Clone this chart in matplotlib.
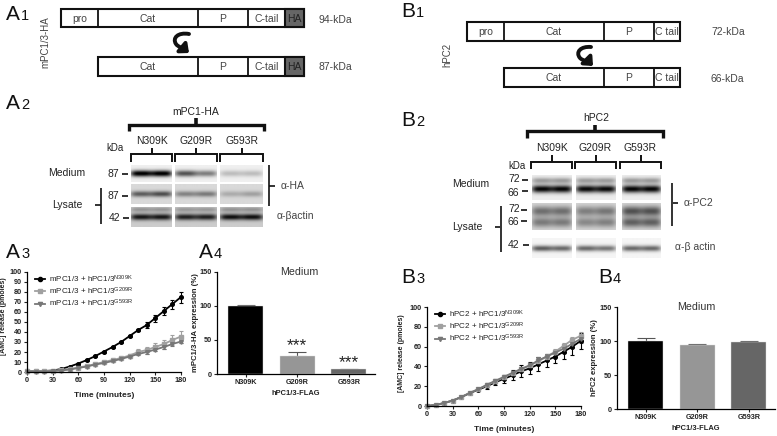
import numpy as np
import matplotlib
matplotlib.use("Agg")
import matplotlib.pyplot as plt
from matplotlib.lines import Line2D
from matplotlib.patches import Rectangle, FancyArrowPatch
from matplotlib.path import Path

plt.rcParams['font.family'] = ['Liberation Sans', 'DejaVu Sans']
plt.rcParams['mathtext.default'] = 'regular'

# curves
minutes = [0, 10, 20, 30, 40, 50, 60, 70, 80, 90, 100, 110, 120, 130, 140, 150, 160, 170, 180]
a_n309k = [1, 1, 1, 1.5, 3, 5.5, 8.5, 12, 16, 20.5, 25, 30, 36, 42, 47, 54, 61, 68, 75]
a_g209r = [1, 1, 1, 1.2, 2, 3, 4.5, 6, 8, 10, 12, 14, 16.5, 20, 22, 25, 28, 32, 35.5]
a_g593r = [0.5, 0.5, 0.5, 1, 1.5, 2.5, 4, 5.5, 7.5, 9, 11, 13, 15.5, 18, 20, 22.5, 25, 28, 30.5]
a_n309k_err = [1.5, 1.5, 1.2, 1, 1, 1, 1, 1, 1, 1, 1, 1, 1, 1, 3, 3.5, 4, 4.5, 5.5]
a_g209r_err = [2, 2, 1.5, 1.5, 1, 1, 1, 1, 1, 1, 1, 1, 1.5, 3, 3.5, 4, 4.5, 5, 6]
a_g593r_err = [1, 1, 1, 1, 1, 1, 1, 1, 1, 1, 1, 1, 1, 1, 1.5, 1.5, 1.5, 1.5, 1.5]
b_n309k = [0, 1, 3, 5.5, 9, 13, 16.5, 20, 24, 27.5, 31, 35, 38, 42, 46, 50, 55, 60, 66]
b_g209r = [0, 1, 3, 5.5, 9, 13.5, 17, 21, 25, 29, 33, 37, 41, 45, 50, 55, 61, 67, 71]
b_g593r = [0, 1, 3, 5.5, 9, 13, 17, 21.5, 25.5, 29.5, 33.5, 37.5, 41, 46, 50, 54, 58, 63, 68]
b_n309k_err = [0.5, 0.5, 0.5, 0.5, 1, 1, 1.5, 3, 3, 4, 5, 6, 6, 7, 7, 7, 8, 8, 8]
b_g209r_err = [0.5, 0.5, 0.5, 0.5, 1, 1, 1, 1.5, 1.5, 2, 2, 2, 2, 2, 2.5, 2.5, 3, 3, 4]
b_g593r_err = [0.5, 0.5, 0.5, 0.5, 1, 1, 1, 1.5, 2, 2, 2, 2, 2.5, 3, 3, 3, 4, 4, 4]

# bars
mutants = ["N309K", "G209R", "G593R"]
a_bars = [100, 26, 7]
a_bars_err = [2, 6, 0.5]
b_bars = [100, 94, 98]
b_bars_err = [4, 1.5, 1.5]

# blot band darkness per lane
a_medium = [0.98, 0.98, 0.62, 0.45, 0.2, 0.2]
a_lysate = [0.55, 0.62, 0.38, 0.42, 0.2, 0.25]
a_actin = [0.72, 0.72, 0.68, 0.68, 0.75, 0.75]
b_medium = [0.92, 0.92, 0.9, 0.9, 0.92, 0.92]
b_lysate = [0.45, 0.45, 0.38, 0.42, 0.58, 0.58]
b_actin = [0.6, 0.55, 0.55, 0.5, 0.55, 0.55]

fig = plt.figure(figsize=(7.77, 4.36), dpi=100)
bg = fig.add_axes([0, 0, 1, 1])
bg.axis("off")


def px_axes(left, right, top, bottom):
    return fig.add_axes([left / 777, 1 - bottom / 436, (right - left) / 777, (bottom - top) / 436])


def label(x, y, s, size=7.5, **kw):
    kw.setdefault("ha", "center")
    kw.setdefault("va", "center")
    kw.setdefault("color", "#222222")
    bg.text(x, y, s, fontsize=size, **kw)


def panel(x, y, letter, num):
    bg.text(x, y, letter, fontsize=15, color="#111111", va="baseline")
    bg.text(x + 15, y, num, fontsize=10.5, color="#111111", va="baseline")


def line(xs, ys, lw=1.2, color="#111111"):
    bg.plot(xs, ys, color=color, lw=lw, solid_capstyle="butt", solid_joinstyle="miter")


def construct(y0, y1, edges, names, size=7.5):
    bg.add_patch(Rectangle((edges[0], y0), edges[-1] - edges[0], y1 - y0, fc="white", ec="#111111", lw=1.5))
    for i, name in enumerate(names):
        if name == "HA":
            bg.add_patch(Rectangle((edges[i], y0), edges[i + 1] - edges[i], y1 - y0, fc="#666666", ec="#111111", lw=1.5))
        label((edges[i] + edges[i + 1]) / 2, (y0 + y1) / 2, name, size=size, color="#444444" if name != "HA" else "#222222")
        if i > 0:
            line([edges[i], edges[i]], [y0, y1], lw=1.3)


def bracket(x0, x1, y_top, y_bot, stem, lw=1.4):
    line([x0, x0, x1, x1], [y_bot, y_top, y_top, y_bot], lw=lw)
    xm = (x0 + x1) / 2
    line([xm, xm], [y_top, stem], lw=lw)


def curl(p0, c1, c2, p1, c3, c4, p2):
    path = Path([p0, c1, c2, p1, c3, c4, p2],
                [Path.MOVETO, Path.CURVE4, Path.CURVE4, Path.CURVE4, Path.CURVE4, Path.CURVE4, Path.CURVE4])
    bg.add_patch(FancyArrowPatch(path=path, arrowstyle="-|>,head_length=0.9,head_width=0.8", lw=2.8,
                                 color="#111111", mutation_scale=5))


def blot(groups, y0, y1, dark, bands, base=0.9):
    # one picture per group, two lanes in each
    for g, (x0, x1) in enumerate(groups):
        xs = np.linspace(x0, x1, 80)
        ys = np.linspace(y0, y1, 60)
        xx, yy = np.meshgrid(xs, ys)
        w = (x1 - x0) / 4
        img = np.full(xx.shape, base)
        for k in range(2):
            c = x0 + w * (1 + 2 * k)
            prof = np.exp(-((xx - c) / (w * 1.05)) ** 4)
            for rel, sig, amt in bands:
                yc = y0 + rel * (y1 - y0)
                img -= dark[g * 2 + k] * amt * prof * np.exp(-((yy - yc) / sig) ** 2)
        bg.imshow(np.clip(img, 0, 1), extent=(x0, x1, y1, y0), cmap="gray", vmin=0, vmax=1,
                  aspect="auto", interpolation="bilinear", zorder=1)


def curve_chart(ax, series, yticks, ylab_x, ylab_y, lab_space):
    handles = []
    for vals, err, col, mk, name in series:
        ax.errorbar(minutes, vals, yerr=err, color=col, marker=mk, ms=2.6, lw=1.3, capsize=1.4,
                    elinewidth=0.8, capthick=0.8, clip_on=False)
        handles.append(Line2D([0], [0], color=col, marker=mk, ms=3, lw=1.3, label=name))
    ax.set_xlim(0, 180)
    ax.set_ylim(0, 100)
    ax.set_xticks(range(0, 181, 30))
    ax.set_yticks(yticks)
    ax.set_xlabel("Time (minutes)", fontsize=6, fontweight="bold", labelpad=6, color="#222222")
    ax.set_ylabel("[AMC] release (pmoles)", fontsize=5, fontweight="bold", color="#222222")
    ax.yaxis.set_label_coords(ylab_x, ylab_y)
    ax.patch.set_alpha(0)
    ax.legend(handles=handles, loc="upper left", bbox_to_anchor=(0.02, 1.035), frameon=False, fontsize=5.8,
              labelspacing=lab_space, handlelength=1.3, handletextpad=0.5, borderpad=0.1, labelcolor="#222222")
    style_axes(ax)


def style_axes(ax):
    ax.spines["top"].set_visible(False)
    ax.spines["right"].set_visible(False)
    ax.spines["left"].set_linewidth(0.9)
    ax.spines["bottom"].set_linewidth(0.9)
    ax.tick_params(length=2.5, width=0.8, pad=1.2, labelsize=5.2, colors="#222222")
    for t in ax.get_xticklabels() + ax.get_yticklabels():
        t.set_fontweight("bold")


def bar_chart(ax, vals, errs, ylabel, ylab_x, title_x):
    cols = ["#000000", "#969696", "#666666"]
    ax.bar(range(3), vals, width=0.68, color=cols, edgecolor="#dddddd", lw=0.3, zorder=2)
    ax.errorbar(range(3), vals, yerr=[[0, 0, 0], errs], fmt="none", ecolor="#555555", elinewidth=0.8,
                capsize=6.5, capthick=0.8, zorder=1)
    ax.set_xlim(-0.56, 2.51)
    ax.set_ylim(0, 150)
    ax.set_yticks([0, 50, 100, 150])
    ax.set_xticks(range(3))
    ax.set_xticklabels(mutants)
    ax.set_xlabel("hPC1/3-FLAG", fontsize=5.4, fontweight="bold", labelpad=3, color="#222222")
    ax.set_ylabel(ylabel, fontweight="bold", fontsize=5.6, color="#222222")
    ax.yaxis.set_label_coords(ylab_x, 0.5)
    ax.text(title_x, 1.0, "Medium", transform=ax.transAxes, ha="center", va="center", fontsize=7.7, color="#333333")
    ax.patch.set_alpha(0)
    style_axes(ax)


# A1
panel(6, 20, "A", "1")
label(45, 42, "mPC1/3-HA", size=7, rotation=90, color="#444444")
construct(9.5, 27.5, [60.5, 98, 198, 248, 285, 304], ["pro", "Cat", "P", "C-tail", "HA"])
construct(57, 76, [98, 198, 248, 285, 304], ["Cat", "P", "C-tail", "HA"])
label(335, 20, "94-kDa", color="#444444")
label(335, 67, "87-kDa", color="#444444")
curl((189, 34), (178, 32), (172, 38), (176, 44), (178, 47), (183, 48), (189, 53))

# B1
panel(401, 17, "B", "1")
label(447, 55, "hPC2", size=7, rotation=90, color="#444444")
construct(22.5, 41, [467, 504, 604, 654, 680], ["pro", "Cat", "P", "C tail"])
construct(68.5, 87, [504, 604, 654, 680], ["Cat", "P", "C tail"])
label(728, 32, "72-kDa", color="#444444")
label(727, 79, "66-kDa", color="#444444")
curl((591, 47), (581, 46), (575, 52), (580, 58), (583, 61), (588, 61), (593, 66))

# A2
panel(6, 109, "A", "2")
a_groups = [(131, 172), (175, 217), (220, 263)]
blot(a_groups, 165, 182, a_medium, [(0.5, 3.2, 1.0)], base=0.94)
blot(a_groups, 185, 204, a_lysate, [(0.5, 2.8, 0.9)], base=0.85)
blot(a_groups, 207, 227, a_actin, [(0.5, 3.2, 1.0), (0.12, 2.5, 0.3)], base=0.8)
label(196, 112, "mPC1-HA", size=7.5)
line([129, 129, 264, 264], [131, 125, 125, 131], lw=2.4)
line([196, 196], [125, 118], lw=2.6)
for name, xc, (x0, x1) in zip(mutants, [152, 196, 242], a_groups):
    label(xc, 141, name, size=7.5)
    bracket(x0, x1, 154, 162, 148)
label(115, 148, "kDa", size=7)
label(67, 173, "Medium", size=7.5)
label(67, 205, "Lysate", size=7.5)
label(113, 174, "87", size=7.5)
label(113, 196, "87", size=7.5)
label(115, 218, "42", size=7.5)
line([122, 128], [174, 174])
line([122, 128], [196, 196])
line([123, 129], [218, 218])
line([101, 101], [188, 224])
line([95, 101], [205, 205])
line([268.5, 268.5], [165, 206])
line([269, 275], [186, 186])
label(293, 186, "α-HA", size=7.5, color="#444444")
label(295, 216, "α-βactin", size=7.5, color="#444444")

# B2
panel(401, 126, "B", "2")
b_groups = [(532, 572), (576, 616), (622, 661)]
blot(b_groups, 175, 200, b_medium, [(0.56, 3.8, 1.0), (0.22, 3, 0.35)], base=0.93)
blot(b_groups, 203, 230, b_lysate, [(0.3, 5, 0.9), (0.72, 5, 0.8)], base=0.84)
blot(b_groups, 238, 258, b_actin, [(0.52, 3, 1.0)], base=0.96)
label(596, 118, "hPC2", size=7.5)
line([527, 527, 663, 663], [138, 131, 131, 138], lw=2.4)
line([595, 595], [131, 125], lw=2.6)
for name, xc, (x0, x1) in zip(mutants, [552, 595, 640], [(531, 572), (575, 616), (620, 661)]):
    label(xc, 148, name, size=7.5)
    bracket(x0, x1, 162, 169.5, 155)
label(517, 166, "kDa", size=7)
label(471, 184, "Medium", size=7.5)
label(467, 227, "Lysate", size=7.5)
for y, tick_y, s, xl, xt in [(179, 180, "72", 514, 522), (193, 191, "66", 513, 522), (209, 210, "72", 514, 521),
                             (222, 221, "66", 513, 521), (245, 245, "42", 514, 523)]:
    label(xl, y, s, size=7.5)
    line([xt, xt + 6], [tick_y, tick_y])
line([500.5, 500.5], [206, 252])
line([495, 500], [227, 227])
line([672, 672], [183, 226])
line([673, 678], [203, 203])
label(699, 203, "α-PC2", size=7.5, color="#444444")
label(695, 247, "α-β actin", size=7.5, color="#444444")

# A3 / A4 / B3 / B4
panel(6, 258, "A", "3")
panel(199, 258, "A", "4")
panel(401, 283, "B", "3")
panel(598, 283, "B", "4")

ax_a3 = px_axes(27, 181, 272, 372)
curve_chart(ax_a3, [(a_n309k, a_n309k_err, "#000000", "o", "mPC1/3 + hPC1/3$^{N309K}$"),
                    (a_g209r, a_g209r_err, "#a0a0a0", "s", "mPC1/3 + hPC1/3$^{G209R}$"),
                    (a_g593r, a_g593r_err, "#777777", "v", "mPC1/3 + hPC1/3$^{G593R}$")],
            range(0, 101, 10), -0.13, 0.56, 0.1)
ax_a4 = px_axes(217, 375, 272, 374)
bar_chart(ax_a4, a_bars, a_bars_err, "mPC1/3-HA expression (%)", -0.115, 0.52)
ax_a4.text(1, 41, "***", ha="center", va="center", fontsize=12.5, color="#222222")
ax_a4.text(2, 16, "***", ha="center", va="center", fontsize=12.5, color="#222222")

ax_b3 = px_axes(427, 581, 307, 406)
curve_chart(ax_b3, [(b_n309k, b_n309k_err, "#000000", "o", "hPC2 + hPC1/3$^{N309K}$"),
                    (b_g209r, b_g209r_err, "#a0a0a0", "s", "hPC2 + hPC1/3$^{G209R}$"),
                    (b_g593r, b_g593r_err, "#777777", "v", "hPC2 + hPC1/3$^{G593R}$")],
            range(0, 101, 20), -0.14, 0.53, 0.1)
ax_b4 = px_axes(617, 775, 307, 409)
bar_chart(ax_b4, b_bars, b_bars_err, "hPC2 expression (%)", -0.12, 0.5)

bg.set_xlim(0, 777)
bg.set_ylim(436, 0)
fig.savefig("out.png", dpi=100)
